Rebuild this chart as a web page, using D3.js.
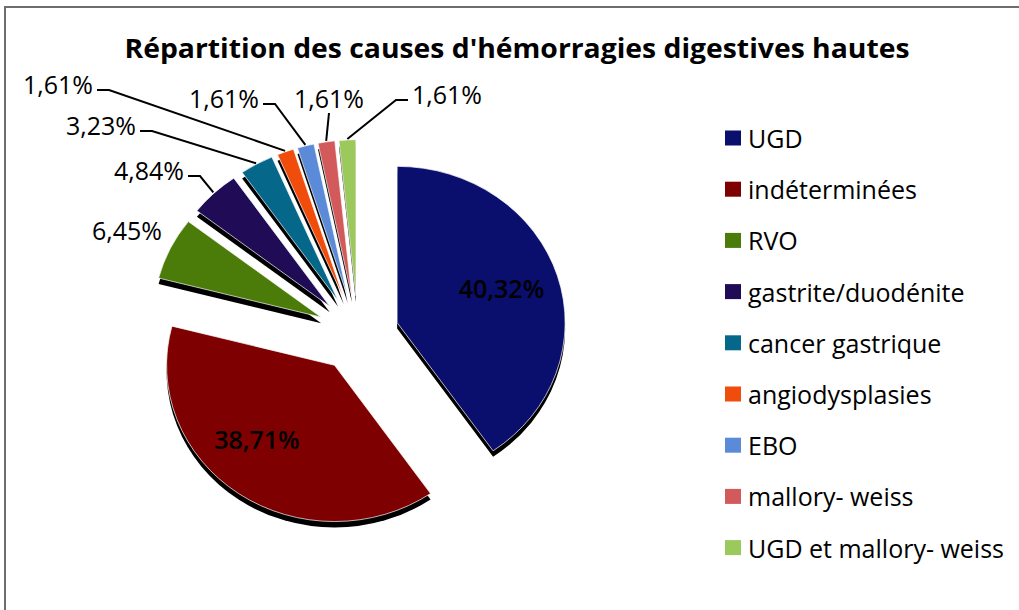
<!DOCTYPE html>
<html>
<head>
<meta charset="utf-8">
<script src="https://cdn.jsdelivr.net/npm/d3@7"></script>
<style>
  body { margin: 0; background: #fff; }
  text { font-family: "Open Sans", Lato, sans-serif; fill: #000; }
</style>
</head>
<body>
<svg id="chart" width="1019" height="610"></svg>
<script>
// Data (62 patients)
const causes = ['UGD', 'indéterminées', 'RVO', 'gastrite/duodénite', 'cancer gastrique',
  'angiodysplasies', 'EBO', 'mallory- weiss', 'UGD et mallory- weiss'];
const patients = [25, 24, 4, 3, 2, 1, 1, 1, 1];
const sliceColors = ['#0a0f6e', '#7f0000', '#4b7b08', '#200c56', '#05678a',
  '#f04c0c', '#5b8bd8', '#d25a5a', '#9bc95c'];

// where the labels were dragged to in the original chart (null = inside slice)
const labelSpots = [null, null, [127, 230, 'none'], [149, 170, 'right'], [101, 125, 'right'],
  [58, 84, 'right'], [224, 98, 'right'], [329, 98, 'below'], [447, 94, 'left']];

const fr = d3.formatLocale({decimal: ',', thousands: ' ', grouping: [3], currency: ['', ' €']});
const pct = fr.format('.2%');

const svg = d3.select('#chart');

// frame (only left and top edges are visible in the source)
svg.append('path')
  .attr('d', 'M5,610V7H1019')
  .attr('fill', 'none')
  .attr('stroke', '#6e6e6e')
  .attr('stroke-width', 2);

// Title
svg.append('text')
  .attr('x', 517)
  .attr('y', 58)
  .attr('text-anchor', 'middle')
  .attr('textLength', 785)
  .attr('lengthAdjust', 'spacingAndGlyphs')
  .style('font-weight', 'bold')
  .style('font-size', '26px')
  .text("Répartition des causes d'hémorragies digestives hautes");

// Pie setup
const cx = 358, cy = 334, r = 168, tilt = 0.93, explode = 41;
const depth = [0, 6];

const pie = d3.pie().sort(null).value(d => d);
const arcs = pie(patients);
const total = d3.sum(patients);
const arc = d3.arc().innerRadius(0).outerRadius(r);

const mid = a => (a.startAngle + a.endAngle) / 2;
const pt = (ang, dist) => [cx + Math.sin(ang) * dist, cy - Math.cos(ang) * dist * tilt];
const shift = a => `translate(${Math.sin(mid(a)) * explode},${-Math.cos(mid(a)) * explode})`;

// dark side of the 3D slices
const shadow = svg.append('g')
  .attr('transform', `translate(${cx + depth[0]},${cy + depth[1]}) scale(1,${tilt})`);
shadow.selectAll('path')
  .data(arcs)
  .join('path')
    .attr('transform', shift)
    .attr('d', arc)
    .attr('fill', '#000');

const pieG = svg.append('g')
  .attr('transform', `translate(${cx},${cy}) scale(1,${tilt})`);
pieG.selectAll('path')
  .data(arcs)
  .join('path')
    .attr('transform', shift)
    .attr('d', arc)
    .attr('fill', (d, i) => sliceColors[i])
    .attr('stroke', '#fff')
    .attr('stroke-width', 0.7)
    .attr('vector-effect', 'non-scaling-stroke');

// Labels
arcs.forEach((a, i) => {
  const txt = pct(patients[i] / total);
  const spot = labelSpots[i];
  if (!spot) {
    const p = pt(mid(a) + (i === 1 ? 0.12 : -0.03), explode + r * 0.66);
    svg.append('text')
      .attr('x', p[0])
      .attr('y', p[1])
      .attr('text-anchor', 'middle')
      .attr('dominant-baseline', 'central')
      .style('font-size', '25px')
      .style('font-weight', '600')
      .text(txt);
    return;
  }
  const t = svg.append('text')
    .attr('x', spot[0])
    .attr('y', spot[1])
    .attr('text-anchor', 'middle')
    .attr('dominant-baseline', 'central')
    .style('font-size', '25px')
    .text(txt);
  const w = t.node().getComputedTextLength();
  const anchor = pt(mid(a), explode + r + 1);
  let pts = null;
  if (spot[2] === 'right') {
    const s = [spot[0] + w / 2 + 4, spot[1] + 6];
    pts = [s, [s[0] + 12, s[1]], anchor];
  } else if (spot[2] === 'left') {
    const s = [spot[0] - w / 2 - 4, spot[1] + 6];
    pts = [s, [s[0] - 12, s[1]], anchor];
  } else if (spot[2] === 'below') {
    pts = [[spot[0], spot[1] + 15], anchor];
  }
  if (pts) {
    svg.append('polyline')
      .attr('points', pts.map(p => p.join(',')).join(' '))
      .attr('fill', 'none')
      .attr('stroke', '#000')
      .attr('stroke-width', 2);
  }
});

// Legend
const legend = svg.append('g').attr('transform', 'translate(725,138)');
const item = legend.selectAll('g')
  .data(causes)
  .join('g')
    .attr('transform', (d, i) => `translate(0,${i * 51.2})`);
item.append('rect')
  .attr('x', 0)
  .attr('y', -7.5)
  .attr('width', 16)
  .attr('height', 15)
  .attr('fill', (d, i) => sliceColors[i]);
item.append('text')
  .attr('x', 23)
  .attr('y', 0)
  .attr('dominant-baseline', 'central')
  .style('font-size', '25px')
  .text(d => d);
</script>
</body>
</html>
